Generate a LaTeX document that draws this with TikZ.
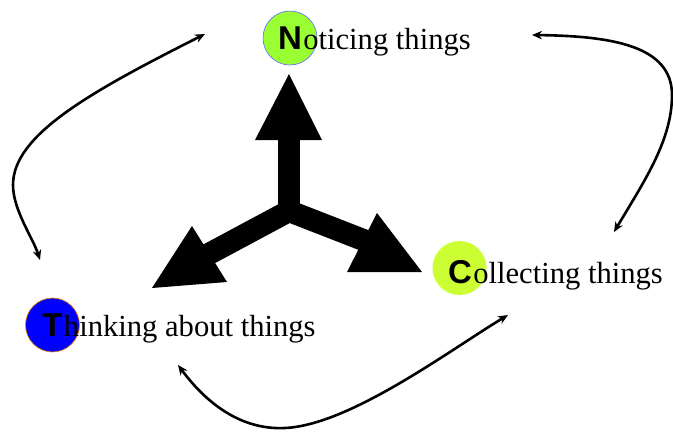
\documentclass[tikz,border=0pt]{standalone}
\usepackage{fontspec}
\setmainfont{Liberation Serif}
\newfontfamily\ballfont{Liberation Sans}
\usetikzlibrary{arrows.meta,positioning}

\definecolor{nGreen}{RGB}{153,255,51}
\definecolor{cLime}{RGB}{204,255,51}

\begin{document}
\begin{tikzpicture}[x=1pt,y=-1pt,>={Stealth[length=10pt,width=8.5pt]},
    ball/.style={circle,minimum size=54pt,inner sep=0pt,line width=0.6pt},
    letter/.style={inner sep=0pt,font=\ballfont\bfseries\fontsize{33}{33}\selectfont},
    caption/.style={inner sep=0pt,font=\fontsize{30.6}{30.6}\selectfont},
    head/.style={fill=black},
    loopline/.style={<->,line width=2.6pt}]
  \useasboundingbox (0,0) rectangle (673,432);

  % the three stages
  \node[ball,fill=nGreen,draw=blue!60] (nBall) at (290,38) {};
  \node[letter] (nLet) at (nBall) {N};
  \node[caption,base right=1pt of nLet] (nText) {oticing things};

  \node[ball,fill=blue,draw=orange] (tBall) at (52.5,325) {};
  \node[letter] (tLet) at (tBall) {T};
  \node[caption,base right=1pt of tLet] (tText) {hinking about things};

  \node[ball,fill=cLime] (cBall) at (459.5,268) {};
  \node[letter] (cLet) at (460,272) {C};
  \node[caption,base right=1pt of cLet] (cText) {ollecting things};

  % big three-way arrow
  \coordinate (hub) at (289,211);
  \coordinate (upBase) at (289,136);
  \coordinate (leftBase) at (205,256);
  \coordinate (rightBase) at (366,241);
  \draw[line width=22pt,line join=miter] (leftBase) -- (hub) -- (rightBase);
  \draw[line width=22pt] (hub) -- (upBase);
  \fill[head] (255,140) -- (289,74) -- (322,140) -- cycle;
  \fill[head] (192,226) -- (152,288) -- (227,282) -- cycle;
  \fill[head] (377,213) -- (422,272) -- (347,272) -- cycle;

  % the cycle between the stages
  \coordinate (tTop) at (40,260);
  \coordinate (nLeft) at (205,34);
  \coordinate (nRight) at (532,35);
  \coordinate (cTop) at (614,232);
  \coordinate (tBottom) at (178,365);
  \coordinate (cLeft) at (508,315);

  \draw[loopline] (tTop) .. controls (33,238) and (13,210) .. (13,185)
    .. controls (13,135) and (90,92) .. (nLeft);
  \draw[loopline] (nRight) .. controls (610,36) and (672,45) .. (672,95)
    .. controls (672,140) and (645,180) .. (cTop);
  \draw[loopline] (tBottom) .. controls (210,408) and (245,430) .. (285,428)
    .. controls (350,425) and (450,350) .. (cLeft);
\end{tikzpicture}
\end{document}
